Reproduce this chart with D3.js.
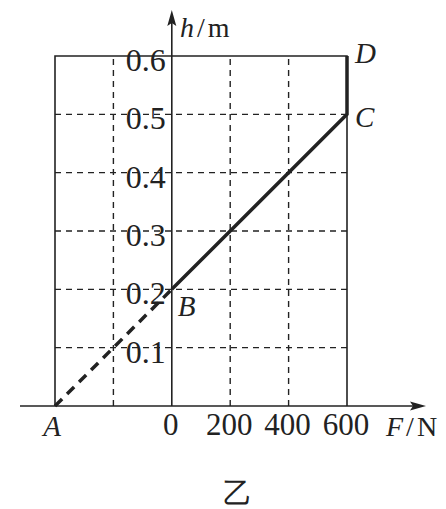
<!DOCTYPE html>
<html>
<head>
<meta charset="utf-8">
<script src="https://d3js.org/d3.v7.min.js"></script>
<style>
	body { margin: 0; padding: 0; background: #fff; }
	svg text { font-family: 'Liberation Serif', 'DejaVu Serif', serif; fill: #222; }
</style>
</head>
<body>
<div id="chart"></div>
<script>
	// data
	var fTicks = [0, 200, 400, 600];
	var hTicks = [0.1, 0.2, 0.3, 0.4, 0.5, 0.6];
	var fGrid = [-200, 200, 400];
	var hGrid = [0.1, 0.2, 0.3, 0.4, 0.5];
	var fRange = [-400, 600];
	var hMax = 0.6;
	var pointNames = ['A', 'B', 'C', 'D'];
	var pointF = [-400, 0, 600, 600];
	var pointH = [0, 0.2, 0.5, 0.6];

	var width = 446, height = 509;
	var ink = '#222';

	var svg = d3.select('#chart').append('svg')
		.attr('width', width)
		.attr('height', height);

	var x = d3.scaleLinear().domain(fRange).range([55, 347]);
	var y = d3.scaleLinear().domain([0, hMax]).range([406, 56]);

	var pts = pointNames.map(function(n, i){ return {name: n, f: pointF[i], h: pointH[i]}; });

	// dashed grid
	svg.selectAll('.vgrid').data(fGrid).enter().append('line')
		.attr('x1', function(d){ return x(d); })
		.attr('x2', function(d){ return x(d); })
		.attr('y1', y(0)).attr('y2', y(hMax))
		.attr('stroke', ink).attr('stroke-width', 1.4)
		.attr('stroke-dasharray', '6,5');

	svg.selectAll('.hgrid').data(hGrid).enter().append('line')
		.attr('x1', x(fRange[0])).attr('x2', x(fRange[1]))
		.attr('y1', function(d){ return y(d); })
		.attr('y2', function(d){ return y(d); })
		.attr('stroke', ink).attr('stroke-width', 1.4)
		.attr('stroke-dasharray', '6,5');

	// outer frame
	svg.append('path')
		.attr('d', 'M' + x(fRange[0]) + ',' + y(0) + 'V' + y(hMax) + 'H' + x(fRange[1]) + 'V' + y(0))
		.attr('fill', 'none').attr('stroke', ink).attr('stroke-width', 1.6);

	// axes
	svg.append('line')
		.attr('x1', 20).attr('x2', 418)
		.attr('y1', y(0)).attr('y2', y(0))
		.attr('stroke', ink).attr('stroke-width', 1.6);
	svg.append('path')
		.attr('d', 'M426,' + y(0) + 'l-16,-4.5l3,4.5l-3,4.5z')
		.attr('fill', ink);

	svg.append('line')
		.attr('x1', x(0)).attr('x2', x(0))
		.attr('y1', y(0)).attr('y2', 18)
		.attr('stroke', ink).attr('stroke-width', 1.6);
	svg.append('path')
		.attr('d', 'M' + x(0) + ',10l-4.5,16l4.5,-3l4.5,3z')
		.attr('fill', ink);

	// dashed extension A-B
	svg.append('line')
		.attr('x1', x(pts[0].f)).attr('y1', y(pts[0].h))
		.attr('x2', x(pts[1].f)).attr('y2', y(pts[1].h))
		.attr('stroke', ink).attr('stroke-width', 3.5)
		.attr('stroke-dasharray', '10,7');

	// solid B-C-D
	var line = d3.line()
		.x(function(d){ return x(d.f); })
		.y(function(d){ return y(d.h); });
	svg.append('path')
		.datum(pts.slice(1))
		.attr('d', line)
		.attr('fill', 'none').attr('stroke', ink)
		.attr('stroke-width', 3.5).attr('stroke-linejoin', 'miter');

	// tick labels
	svg.selectAll('.htick').data(hTicks).enter().append('text')
		.attr('x', x(0) - 6)
		.attr('y', function(d){ return y(d) + 15; })
		.attr('text-anchor', 'end')
		.attr('font-size', 32)
		.text(function(d){ return d3.format('.1f')(d); });

	svg.selectAll('.ftick').data(fTicks).enter().append('text')
		.attr('x', function(d){ return x(d) - 1; })
		.attr('y', 435)
		.attr('text-anchor', 'middle')
		.attr('font-size', 31)
		.text(function(d){ return d; });

	// point labels
	var labelOff = {A: [-3, 30], B: [6, 27], C: [8, 13], D: [8, 7]};
	svg.selectAll('.plabel').data(pts).enter().append('text')
		.attr('x', function(d){ return x(d.f) + labelOff[d.name][0]; })
		.attr('y', function(d){ return y(d.h) + labelOff[d.name][1]; })
		.attr('text-anchor', function(d){ return d.name === 'A' ? 'middle' : 'start'; })
		.attr('font-size', 29)
		.attr('font-style', 'italic')
		.text(function(d){ return d.name; });

	// axis titles
	var ht = svg.append('text').attr('x', 180).attr('y', 37).attr('font-size', 28);
	ht.append('tspan').attr('font-style', 'italic').text('h');
	ht.append('tspan').attr('dx', 3).text('/');
	ht.append('tspan').attr('dx', 3).text('m');

	var ft = svg.append('text').attr('x', 386).attr('y', 436).attr('font-size', 28);
	ft.append('tspan').attr('font-style', 'italic').text('F');
	ft.append('tspan').attr('dx', 3).text('/');
	ft.append('tspan').attr('dx', 3).text('N');

	// caption
	svg.append('text')
		.attr('x', 237).attr('y', 503)
		.attr('text-anchor', 'middle')
		.attr('font-family', "'Noto Sans CJK SC', sans-serif")
		.attr('font-weight', 300)
		.attr('font-size', 29)
		.text('乙');
</script>
</body>
</html>
